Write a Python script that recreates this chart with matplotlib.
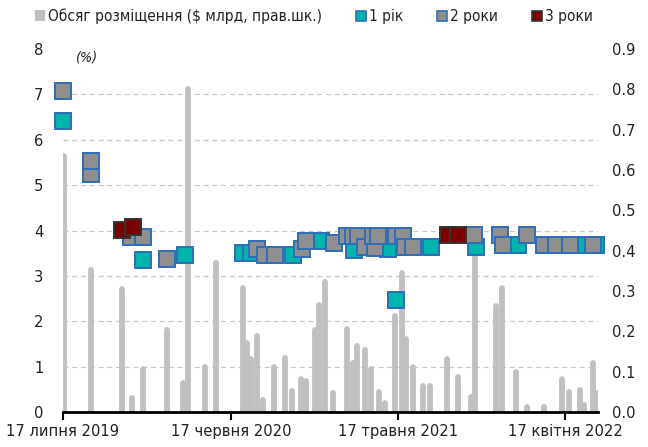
import pandas as pd
import matplotlib
matplotlib.use("Agg")
import matplotlib.pyplot as plt
from matplotlib import font_manager
from matplotlib.lines import Line2D
from matplotlib.patches import Patch
from matplotlib.ticker import MultipleLocator

# the original uses a narrow font; take a narrow one if any is installed
narrow = [f for f in font_manager.fontManager.ttflist
          if ('Narrow' in f.name or f.stretch in ('condensed', 'semi-condensed', 600, 700))
          and f.style == 'normal']
if narrow:
    plt.rcParams['font.family'] = [narrow[0].name, 'DejaVu Sans']
    plt.rcParams['font.stretch'] = narrow[0].stretch
    fs = 11.8
else:
    plt.rcParams['font.family'] = ['Liberation Sans', 'DejaVu Sans']
    fs = 11

# ---- placement volume, $ bn (right scale)
bar_dates = ['2019-07-20', '2019-09-11', '2019-11-13', '2019-12-03', '2019-12-24',
             '2020-02-11', '2020-03-14', '2020-03-23', '2020-04-26', '2020-05-18',
             '2020-07-12', '2020-07-20', '2020-07-27', '2020-08-09', '2020-08-21',
             '2020-09-12', '2020-10-04', '2020-10-18', '2020-11-05', '2020-11-15',
             '2020-12-02', '2020-12-11', '2020-12-23', '2021-01-08', '2021-02-05',
             '2021-02-16', '2021-02-25', '2021-03-12', '2021-03-25', '2021-04-09',
             '2021-04-22', '2021-05-12', '2021-05-26', '2021-06-03', '2021-06-16',
             '2021-07-07', '2021-07-21', '2021-08-24', '2021-09-15', '2021-10-10',
             '2021-10-19', '2021-11-30', '2021-12-12', '2022-01-09', '2022-01-31',
             '2022-03-06', '2022-04-10', '2022-04-24', '2022-05-16', '2022-05-24',
             '2022-06-12', '2022-06-20']
bar_volume = [0.635, 0.352, 0.304, 0.035, 0.106,
              0.203, 0.071, 0.800, 0.111, 0.369,
              0.307, 0.170, 0.132, 0.188, 0.030,
              0.112, 0.135, 0.052, 0.082, 0.077,
              0.203, 0.265, 0.323, 0.048, 0.207,
              0.122, 0.164, 0.154, 0.106, 0.049,
              0.023, 0.238, 0.345, 0.181, 0.112,
              0.065, 0.065, 0.131, 0.088, 0.038,
              0.420, 0.263, 0.308, 0.100, 0.012,
              0.012, 0.081, 0.050, 0.055, 0.017,
              0.121, 0.048]

# ---- yields, % (left scale)
y1_dates = ['2019-07-17', '2019-12-25', '2020-03-17', '2020-07-12', '2020-07-27',
            '2020-10-19', '2020-12-15', '2021-02-18', '2021-04-28', '2021-05-13',
            '2021-07-22', '2021-10-20', '2022-01-12', '2022-05-26', '2022-06-18']
y1_rate = [6.42, 3.36, 3.46, 3.50, 3.50,
           3.47, 3.77, 3.57, 3.59, 2.46,
           3.64, 3.64, 3.68, 3.68, 3.68]

y2_dates = ['2019-07-17', '2019-09-12', '2019-09-12', '2019-11-30', '2019-12-25',
            '2020-02-11', '2020-08-09', '2020-08-24', '2020-09-13', '2020-11-06',
            '2020-11-15', '2021-01-09', '2021-02-05', '2021-02-17', '2021-02-26',
            '2021-03-12', '2021-04-01', '2021-03-28', '2021-04-08', '2021-05-14',
            '2021-05-27', '2021-05-31', '2021-06-16', '2021-10-16', '2021-12-08',
            '2021-12-14', '2022-01-31', '2022-03-06', '2022-03-29', '2022-04-26',
            '2022-06-12']
y2_rate = [7.08, 5.24, 5.54, 3.86, 3.85,
           3.38, 3.59, 3.47, 3.47, 3.60,
           3.77, 3.72, 3.89, 3.89, 3.89,
           3.64, 3.62, 3.89, 3.89, 3.89,
           3.89, 3.64, 3.64, 3.90, 3.90,
           3.68, 3.90, 3.68, 3.68, 3.68,
           3.68]

y3_dates = ['2019-11-13', '2019-12-04', '2021-08-25', '2021-09-15']
y3_rate = [4.01, 4.08, 3.90, 3.90]

tick_dates = ['2019-07-17', '2020-06-17', '2021-05-17', '2022-04-17']
tick_labels = ['17 липня 2019', '17 червня 2020', '17 травня 2021', '17 квітня 2022']

bar_color = '#c0c0c0'
teal = '#00b5ad'
grey = '#8f8f8f'
dred = '#7a0000'
blue_edge = '#2f6eba'

fig = plt.figure(figsize=(6.48, 4.47), dpi=100)
ax = fig.add_axes([0.0972, 0.0783, 0.8256, 0.812])
ax2 = ax.twinx()

# bars on the right axis, grid lines (matching the left integers) under them
ax2.vlines(pd.to_datetime(bar_dates), 0, bar_volume, color=bar_color, lw=4.2,
           capstyle='round', zorder=2)
ax2.set_ylim(0, 0.9)
ax2.yaxis.set_major_locator(MultipleLocator(0.1))
ax2.yaxis.set_major_formatter('{x:.1f}')
ax2.yaxis.set_minor_locator(MultipleLocator(0.9 / 8))
ax2.grid(which='minor', axis='y', color='#c8c8c8', ls=(0, (4, 3)), lw=0.9)
ax2.tick_params(axis='y', which='both', length=0, labelsize=fs, pad=10, colors='#222222')

# markers on the left axis, drawn on top
ax.set_zorder(ax2.get_zorder() + 1)
ax.patch.set_visible(False)
mk = dict(ls='none', marker='s', ms=11, mew=1.4, clip_on=False)
ax.plot(pd.to_datetime(y1_dates), y1_rate, mfc=teal, mec=blue_edge, zorder=3, **mk)
ax.plot(pd.to_datetime(y2_dates), y2_rate, mfc=grey, mec=blue_edge, zorder=4, **mk)
ax.plot(pd.to_datetime(y3_dates), y3_rate, mfc=dred, mec='#333333', zorder=5, **mk)

ax.set_ylim(0, 8)
ax.set_yticks(range(0, 9))
ax.tick_params(axis='y', length=0, labelsize=fs, pad=14, colors='#222222')
ax.set_xlim(pd.Timestamp('2019-07-17'), pd.Timestamp('2022-06-21'))
ax.set_xticks(pd.to_datetime(tick_dates))
ax.set_xticklabels(tick_labels)
ax.tick_params(axis='x', length=6, width=1.5, direction='out', labelsize=fs, pad=3,
               colors='black', labelcolor='#222222')
ax2.tick_params(axis='x', length=0)

for a in (ax, ax2):
    for s in ('top', 'left', 'right'):
        a.spines[s].set_visible(False)
ax2.spines['bottom'].set_visible(False)
ax.spines['bottom'].set_linewidth(2)
ax.spines['bottom'].set_color('black')

ax.text(0.022, 0.995, '(%)', transform=ax.transAxes, fontsize=fs - 1.5, style='italic',
        va='top', ha='left', color='#222222')

handles = [Patch(facecolor=bar_color, edgecolor='none'),
           Line2D([], [], ls='none', marker='s', ms=7.5, mfc=teal, mec=blue_edge, mew=1.2),
           Line2D([], [], ls='none', marker='s', ms=7.5, mfc=grey, mec=blue_edge, mew=1.2),
           Line2D([], [], ls='none', marker='s', ms=7.5, mfc=dred, mec='#333333', mew=1.2)]
labels = ['Обсяг розміщення ($ млрд, прав.шк.)', '1 рік', '2 роки', '3 роки']
fig.legend(handles, labels, loc='upper center', bbox_to_anchor=(0.484, 1.012), ncol=4,
           frameon=False, fontsize=11.1, handlelength=0.7, handleheight=0.7,
           handletextpad=0.15, columnspacing=2.2, labelcolor='#222222')

fig.savefig('out.png', dpi=100)
